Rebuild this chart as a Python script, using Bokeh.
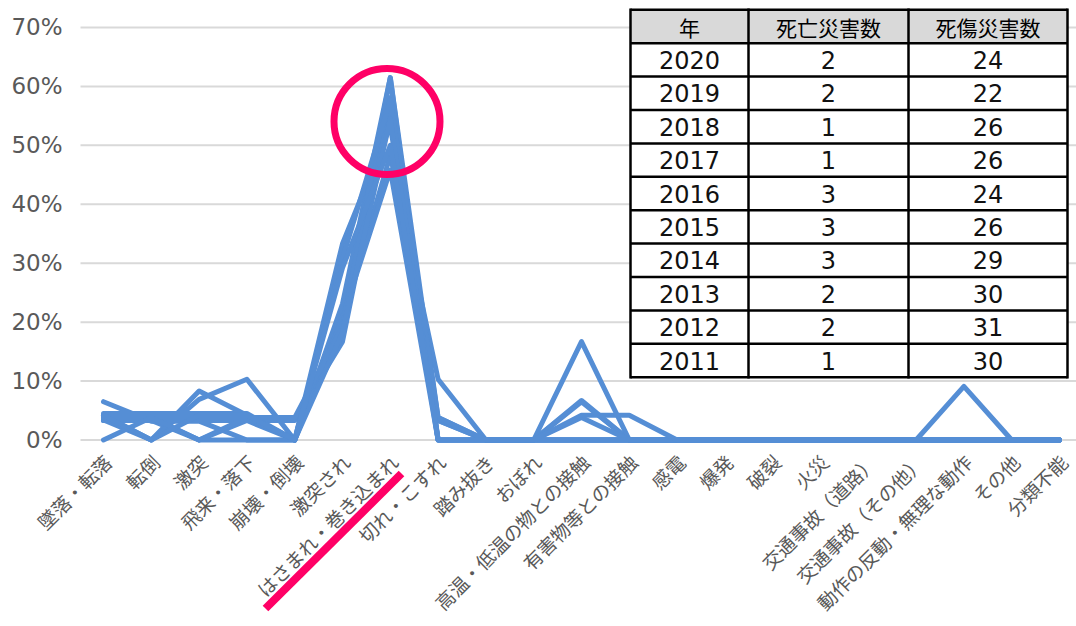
import math
from bokeh.plotting import figure
from bokeh.models import Range1d
from bokeh.core.properties import value
from bokeh.embed import file_html
from bokeh.resources import INLINE

# ---------------- data ----------------
categories = ["墜落・転落", "転倒", "激突", "飛来・落下", "崩壊・倒壊", "激突され",
              "はさまれ・巻き込まれ", "切れ・こすれ", "踏み抜き", "おぼれ",
              "高温・低温の物との接触", "有害物等との接触", "感電", "爆発", "破裂",
              "火災", "交通事故（道路）", "交通事故（その他）", "動作の反動・無理な動作",
              "その他", "分類不能"]

y2011 = [3.3, 3.3, 0, 3.3, 0, 33.3, 53.3, 3.3, 0, 0, 0, 0, 0, 0, 0, 0, 0, 0, 0, 0, 0]
y2012 = [6.5, 3.2, 3.2, 0, 0, 22.6, 58.1, 0, 0, 0, 6.5, 0, 0, 0, 0, 0, 0, 0, 0, 0, 0]
y2013 = [3.3, 3.3, 3.3, 3.3, 3.3, 16.7, 56.7, 3.3, 0, 0, 6.7, 0, 0, 0, 0, 0, 0, 0, 0, 0, 0]
y2014 = [3.4, 0, 6.9, 10.3, 0, 20.7, 48.3, 10.3, 0, 0, 0, 0, 0, 0, 0, 0, 0, 0, 0, 0, 0]
y2015 = [3.8, 3.8, 0, 3.8, 0, 23.1, 61.5, 3.8, 0, 0, 0, 0, 0, 0, 0, 0, 0, 0, 0, 0, 0]
y2016 = [4.2, 0, 8.3, 4.2, 0, 20.8, 45.8, 0, 0, 0, 16.7, 0, 0, 0, 0, 0, 0, 0, 0, 0, 0]
y2017 = [3.8, 3.8, 3.8, 3.8, 3.8, 19.2, 61.5, 0, 0, 0, 0, 0, 0, 0, 0, 0, 0, 0, 0, 0, 0]
y2018 = [0, 3.8, 0, 0, 0, 30.8, 57.7, 3.8, 0, 0, 3.8, 0, 0, 0, 0, 0, 0, 0, 0, 0, 0]
y2019 = [4.5, 4.5, 4.5, 4.5, 0, 18.2, 54.5, 0, 0, 0, 0, 0, 0, 0, 0, 0, 0, 0, 9.1, 0, 0]
y2020 = [4.2, 0, 4.2, 4.2, 0, 29.2, 50.0, 0, 0, 0, 4.2, 4.2, 0, 0, 0, 0, 0, 0, 0, 0, 0]
series = [y2011, y2012, y2013, y2014, y2015, y2016, y2017, y2018, y2019, y2020]

y_ticks = [0, 0.1, 0.2, 0.3, 0.4, 0.5, 0.6, 0.7]
y_tick_labels = ["0%", "10%", "20%", "30%", "40%", "50%", "60%", "70%"]

table_header = ["年", "死亡災害数", "死傷災害数"]
table_years = ["2020", "2019", "2018", "2017", "2016", "2015", "2014", "2013", "2012", "2011"]
table_deaths = ["2", "2", "1", "1", "3", "3", "3", "2", "2", "1"]
table_total = ["24", "22", "26", "26", "24", "26", "29", "30", "31", "30"]

# ---------------- layout (picture pixels -> data) ----------------
W, H = 1076, 626
X0_PX, DX_PX = 103.0, 47.8          # category 0 position, spacing
Y0_PX, PX_PER_UNIT = 439.5, 589.3   # 0% position, px per 100%

def dx(px):
    return (px - X0_PX) / DX_PX

def dy(py):
    return (Y0_PX - py) / PX_PER_UNIT

BLUE = "#558ED5"
PINK = "#FF0066"
GRAY = "#595959"

p = figure(width=W, height=H, output_backend="svg", toolbar_location=None,
           x_range=Range1d(dx(0), dx(W)), y_range=Range1d(dy(H), dy(0)),
           x_axis_location=None, y_axis_location=None,
           min_border_left=0, min_border_right=0, min_border_top=0, min_border_bottom=0,
           outline_line_color=None, background_fill_color="white",
           border_fill_color="white")
p.xgrid.visible = False
p.ygrid.visible = False

# gridlines
n_t = len(y_ticks)
p.segment(x0=[dx(80)] * n_t, x1=[dx(1076)] * n_t, y0=y_ticks, y1=y_ticks,
          line_color="#D9D9D9", line_width=2)
# y tick labels
p.text(x=[dx(62)] * n_t, y=y_ticks, text=y_tick_labels, text_align="right",
       text_baseline="middle", text_font=value("DejaVu Sans"),
       text_font_size="23px", text_color=GRAY)

idx = list(range(len(categories)))

# series lines
for s in series:
    p.line(x=idx, y=[v / 100.0 for v in s], line_color=BLUE, line_width=5,
           line_join="round", line_cap="round")

# category labels
p.text(x=idx, y=[0] * len(idx), text=categories, angle=math.pi / 4,
       text_align="right", text_baseline="middle", x_offset=4, y_offset=18,
       text_font=value("Noto Sans CJK JP"), text_font_size="19px", text_color=GRAY)

# table
col_edges = [630, 748, 908, 1067]
row_top, row_h = 9.3, 33.4
n_rows = len(table_years) + 1
row_edges = [row_top + i * row_h for i in range(n_rows + 1)]

p.quad(left=dx(col_edges[0]), right=dx(col_edges[-1]), top=dy(row_edges[0]),
       bottom=dy(row_edges[-1]), fill_color="white", line_color=None)
p.quad(left=dx(col_edges[0]), right=dx(col_edges[-1]), top=dy(row_edges[0]),
       bottom=dy(row_edges[1]), fill_color="#D9D9D9", line_color=None)

hx0 = [dx(col_edges[0])] * len(row_edges)
hx1 = [dx(col_edges[-1])] * len(row_edges)
hy = [dy(r) for r in row_edges]
p.segment(x0=hx0, y0=hy, x1=hx1, y1=hy, line_color="black", line_width=2.5)
vx = [dx(c) for c in col_edges]
p.segment(x0=vx, y0=[dy(row_edges[0] - 1.2)] * 4, x1=vx, y1=[dy(row_edges[-1] + 1.2)] * 4,
          line_color="black", line_width=2.5)

col_centers = [dx((col_edges[i] + col_edges[i + 1]) / 2) for i in range(3)]
row_centers = [dy((row_edges[i] + row_edges[i + 1]) / 2) for i in range(n_rows)]

p.text(x=col_centers, y=[row_centers[0]] * 3, text=table_header,
       text_align="center", text_baseline="middle",
       text_font=value("Noto Sans CJK JP"), text_font_size="21px", text_color="black")
for ci, col in enumerate([table_years, table_deaths, table_total]):
    p.text(x=[col_centers[ci]] * len(col), y=row_centers[1:], text=col,
           text_align="center", text_baseline="middle",
           text_font=value("DejaVu Sans"), text_font_size="24px", text_color="#111111")

# highlight circle and underline
p.scatter(x=[dx(386.5)], y=[dy(121)], size=106, marker="circle",
          fill_color=None, line_color=PINK, line_width=7)
p.segment(x0=[dx(265)], y0=[dy(608)], x1=[dx(401)], y1=[dy(473)],
          line_color=PINK, line_width=8)

open("out.html", "w").write(file_html(p, INLINE))
